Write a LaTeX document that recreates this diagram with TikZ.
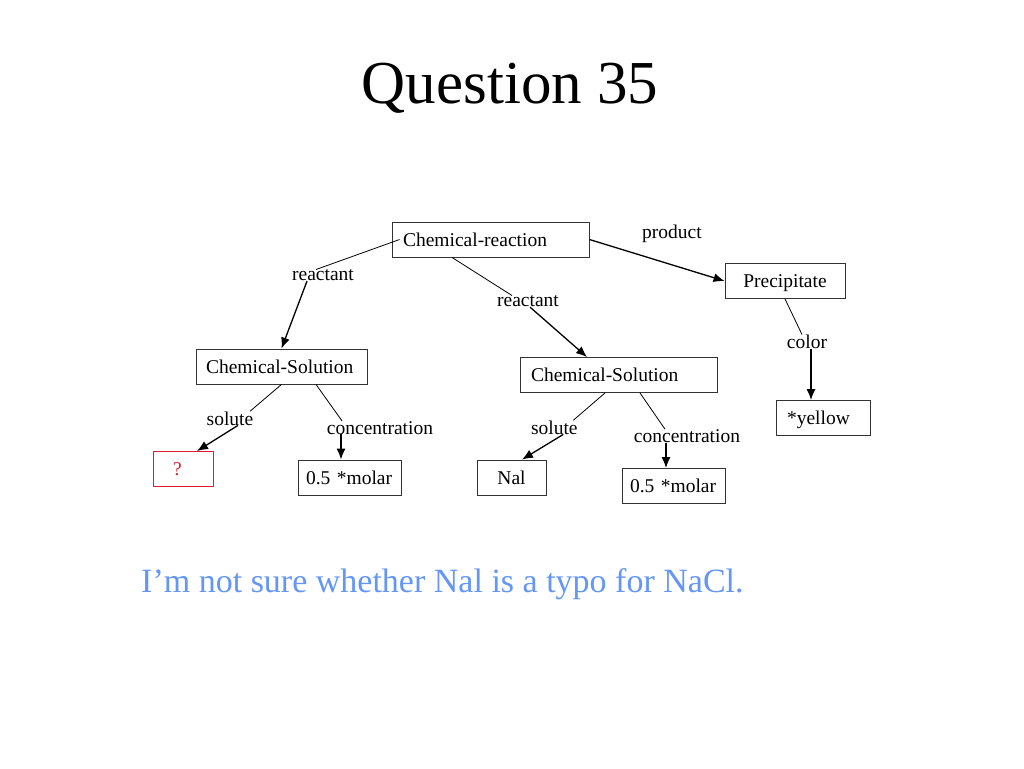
\documentclass[tikz,border=0pt]{standalone}
\usepackage{fontspec}
\setmainfont{Liberation Serif}
\usetikzlibrary{arrows.meta}
\definecolor{notecolor}{RGB}{100,150,245}
\definecolor{askcolor}{RGB}{220,30,50}

\begin{document}
\begin{tikzpicture}[x=1pt, y=-1pt,
    concept/.style={draw=black!80, line width=0.9pt, rectangle, align=left,
      font=\fontsize{19.5}{22}\selectfont, inner xsep=11pt, inner ysep=0pt,
      minimum height=35pt, text height=14pt, text depth=1pt},
    rel/.style={font=\fontsize{19.5}{22}\selectfont, inner sep=0pt, anchor=base},
    link/.style={line width=0.8pt},
    tip/.style={line width=1.3pt, -{Latex[length=11pt,width=9pt]}}]
      \useasboundingbox (0,0) rectangle (1024,768);

      \node[font=\fontsize{61}{70}\selectfont, anchor=base] (title) at (510,103.3) {Question 35};

      % concept boxes
      \node[concept, text width=175pt]                   (CR)  at (490.5,239.5) {Chemical-reaction};
      \node[concept, text width=151pt, inner xsep=10pt]  (CSa) at (281.5,366.5) {Chemical-Solution};
      \node[concept, text width=175pt]                   (CSb) at (618.5,375)   {Chemical-Solution};
      \node[concept, text width=98pt, align=center]      (Pr)  at (785,281)     {Precipitate};
      \node[concept, text width=72pt]                    (ye)  at (823,418)     {*yellow};
      \node[concept, text width=38pt, draw=askcolor, text=askcolor] (q) at (183,469) {\hspace*{9pt}?};
      \node[concept, text width=87pt, inner xsep=8pt]    (ma)  at (349.5,477.5) {0.5 *molar};
      \node[concept, text width=47pt, align=center]      (na)  at (511.5,477.5) {Nal};
      \node[concept, text width=87pt, inner xsep=8pt]    (mb)  at (673.5,486)   {0.5 *molar};

      % relation labels
      \node[rel] (pr) at (672,238.3) {product};
      \node[rel] (rl) at (323,280.7) {reactant};
      \node[rel] (rm) at (528,306.7) {reactant};
      \node[rel] (co) at (807,348.3) {color};
      \node[rel] (sl) at (230,425)   {solute};
      \node[rel] (cl) at (380,434)   {concentration};
      \node[rel] (sr) at (554.3,434) {solute};
      \node[rel] (cr) at (687,442.3) {concentration};

      \path ([xshift=8pt]CR.west) edge[link] ([xshift=-7pt]rl.north)
            ([xshift=-16pt]rl.south) edge[tip] (CSa.north)
            ([xshift=-38.5pt]CR.south) edge[link] ([xshift=-16pt]rm.north)
            ([xshift=2pt]rm.south) edge[tip] ([xshift=-31.5pt]CSb.north)
            (CR.east) edge[tip] (Pr.west)
            (Pr.south) edge[link] ([xshift=-5pt]co.north)
            ([xshift=4pt]co.south) edge[tip] ([xshift=-12pt]ye.north)
            (CSa.south) edge[link] ([xshift=20pt]sl.north)
            ([xshift=8pt]sl.south) edge[tip] ([xshift=14pt]q.north)
            ([xshift=34.5pt]CSa.south) edge[link] ([xshift=-38pt]cl.north)
            ([xshift=-39pt]cl.south) edge[tip] ([xshift=-8.5pt]ma.north)
            ([xshift=-13.5pt]CSb.south) edge[link] ([xshift=19pt]sr.north)
            ([xshift=9pt]sr.south) edge[tip] ([xshift=10.5pt]na.north)
            ([xshift=21.5pt]CSb.south) edge[link] ([xshift=-22pt]cr.north)
            ([xshift=-21pt]cr.south) edge[tip] ([xshift=-7.5pt]mb.north);

      \node[anchor=base west, inner sep=0pt, text=notecolor, font=\fontsize{34}{40}\selectfont]
        (note) at (141,592.7) {I’m not sure whether Nal is a typo for NaCl.};
    \end{tikzpicture}
\end{document}
